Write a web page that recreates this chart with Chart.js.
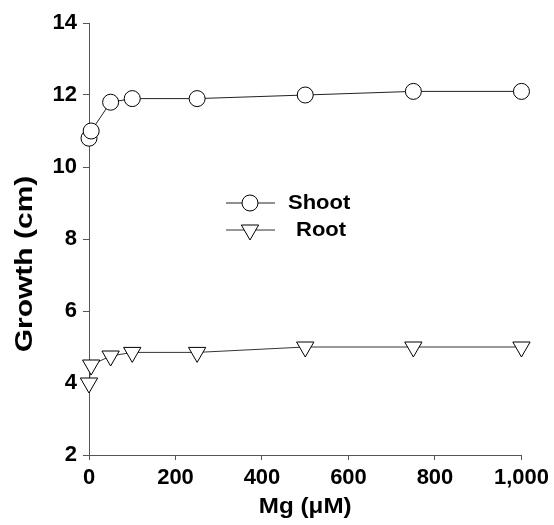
<!DOCTYPE html>
<html><head><meta charset="utf-8">
<script src="https://cdn.jsdelivr.net/npm/chart.js@4"></script>
<style>html,body{margin:0;padding:0;background:#fff}#wrap{width:554px;height:525px}</style>
</head><body><div id="wrap"><canvas id="c" width="554" height="525"></canvas></div>
<script>
const seriesNames = ['Shoot', 'Root'];
const mgValues = [0, 5, 50, 100, 250, 500, 750, 1000];
const shootGrowth = [10.8, 11.0, 11.8, 11.9, 11.9, 12.0, 12.1, 12.1];
const rootGrowth = [4.0, 4.5, 4.75, 4.85, 4.85, 5.0, 5.0, 5.0];
const yTickValues = [2, 4, 6, 8, 10, 12, 14];
const xTickValues = [0, 200, 400, 600, 800, 1000];
const xTitle = 'Mg (μM)';
const yTitle = 'Growth (cm)';

const FONT = '"Liberation Sans", Arial, Helvetica, sans-serif';
const AX = '#555';

function pts(xs, ys) { return xs.map((x, i) => ({ x: x, y: ys[i] })); }

function stretchedText(ctx, text, cx, cy, size, sx, angle, align) {
  ctx.save();
  ctx.translate(cx, cy);
  if (angle) ctx.rotate(angle);
  ctx.scale(sx, 1);
  ctx.font = 'bold ' + size + 'px ' + FONT;
  ctx.textAlign = align || 'center';
  ctx.textBaseline = 'middle';
  ctx.fillStyle = '#000';
  ctx.fillText(text, 0, 0);
  ctx.restore();
}

const decorPlugin = {
  id: 'decor',
  afterDraw(chart) {
    const ctx = chart.ctx;
    const rows = [
      { ds: chart.data.datasets[0], y: 203, tx: 288 },
      { ds: chart.data.datasets[1], y: 230, tx: 296 }
    ];
    ctx.save();
    rows.forEach(r => {
      ctx.strokeStyle = r.ds.borderColor;
      ctx.lineWidth = 1;
      ctx.beginPath(); ctx.moveTo(226, r.y); ctx.lineTo(275, r.y); ctx.stroke();
      ctx.fillStyle = '#fff';
      ctx.strokeStyle = '#000';
      Chart.helpers.drawPoint(ctx, {
        pointStyle: r.ds.pointStyle, rotation: r.ds.pointRotation || 0,
        radius: r.ds.pointRadius, borderWidth: 1
      }, 250, r.y);
      stretchedText(ctx, r.ds.label, r.tx, r.y, 20, 1.1, 0, 'left');
    });
    ctx.restore();
    // axis titles
    const xs = chart.scales.x;
    stretchedText(ctx, xTitle, (xs.left + xs.right) / 2, 507, 22, 1.1, 0, 'center');
    stretchedText(ctx, yTitle, 25, 264, 24, 1.25, -Math.PI / 2, 'center');
  }
};

new Chart(document.getElementById('c'), {
  type: 'line',
  data: {
    datasets: [
      {
        label: seriesNames[0], data: pts(mgValues, shootGrowth),
        borderColor: '#222', borderWidth: 1, backgroundColor: '#fff',
        pointStyle: 'circle', pointRadius: 8, pointBorderColor: '#000',
        pointBackgroundColor: '#fff', pointBorderWidth: 1, tension: 0, clip: false
      },
      {
        label: seriesNames[1], data: pts(mgValues, rootGrowth),
        borderColor: '#333', borderWidth: 1, backgroundColor: '#fff',
        pointStyle: 'triangle', pointRotation: 180, pointRadius: 10, pointBorderColor: '#000',
        pointBackgroundColor: '#fff', pointBorderWidth: 1, tension: 0, clip: false
      }
    ]
  },
  options: {
    responsive: false, animation: false, devicePixelRatio: 1,
    layout: { padding: { top: 23, right: 31, left: 0, bottom: 0 } },
    plugins: { legend: { display: false }, tooltip: { enabled: false } },
    scales: {
      x: {
        type: 'linear', min: 0, max: 1000,
        afterFit(s) { s.height = 70; },
        afterBuildTicks(s) { s.ticks = xTickValues.map(v => ({ value: v })); },
        ticks: {
          color: '#000', font: { family: FONT, size: 22, weight: 'bold' }, padding: 5,
          maxRotation: 0, autoSkip: false,
          callback: v => v.toLocaleString('en-US')
        },
        grid: { display: true, drawOnChartArea: false, drawTicks: true, tickLength: 5, color: AX, tickColor: AX },
        border: { display: true, color: AX, width: 1 },
        title: { display: false, text: xTitle }
      },
      y: {
        type: 'linear', min: 2, max: 14,
        afterFit(s) { s.width = 89; },
        afterBuildTicks(s) { s.ticks = yTickValues.map(v => ({ value: v })); },
        ticks: { color: '#000', font: { family: FONT, size: 22, weight: 'bold' }, padding: 6, autoSkip: false },
        grid: { display: true, drawOnChartArea: false, drawTicks: true, tickLength: 6, color: AX, tickColor: AX },
        border: { display: true, color: AX, width: 1 },
        title: { display: false, text: yTitle }
      }
    }
  },
  plugins: [decorPlugin]
});
</script>
</body></html>
